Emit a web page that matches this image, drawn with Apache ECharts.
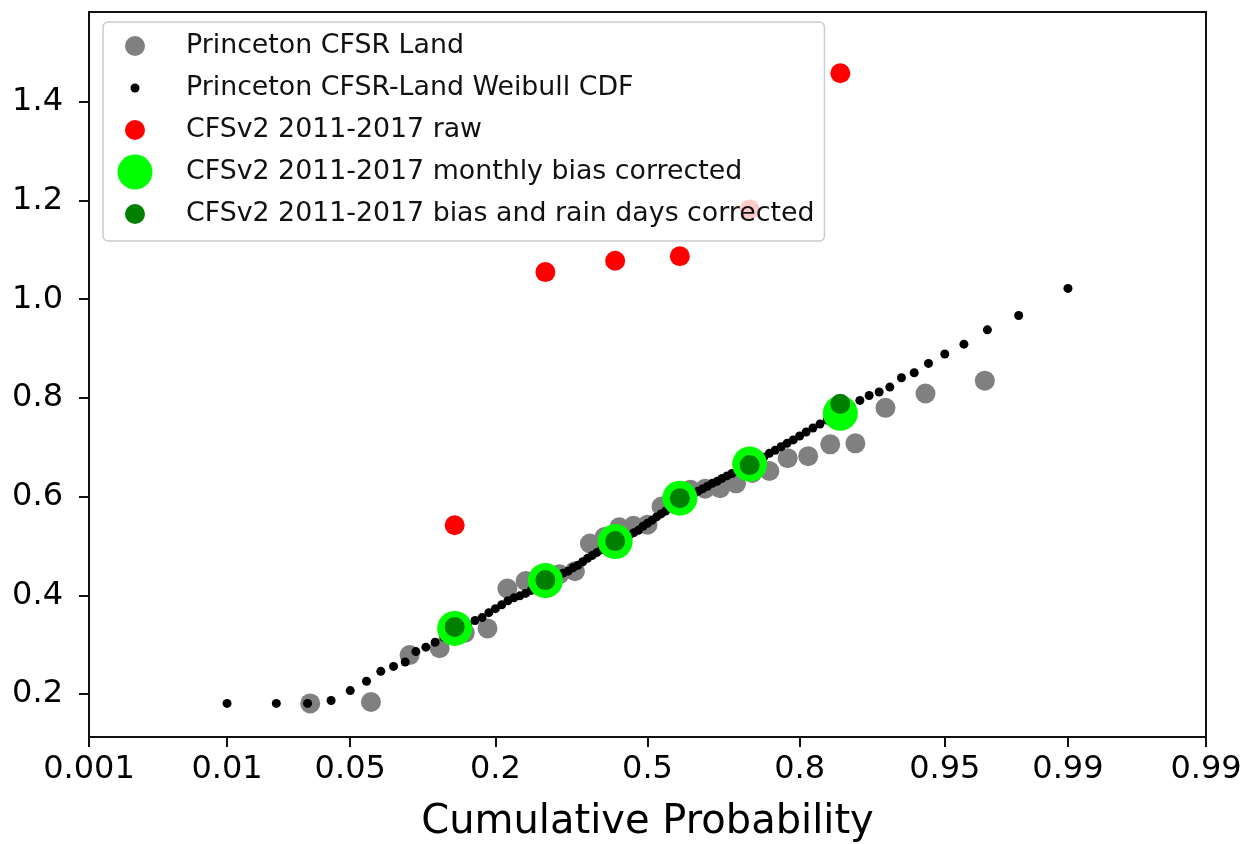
<!DOCTYPE html>
<html>
<head>
<meta charset="utf-8">
<script src="https://cdn.jsdelivr.net/npm/echarts@6/dist/echarts.min.js"></script>
<style>
html,body{margin:0;padding:0;background:#fff;}
#chart{width:1242px;height:844px;}
</style>
</head>
<body>
<div id="chart"></div>
<script>
// ---- data (x = cumulative probability, y = value) ----
const tickProbs = [0.001, 0.01, 0.05, 0.2, 0.5, 0.8, 0.95, 0.99, 0.999];
const tickLabels = ['0.001', '0.01', '0.05', '0.2', '0.5', '0.8', '0.95', '0.99', '0.99'];
const yTicks = [0.2, 0.4, 0.6, 0.8, 1.0, 1.2, 1.4];

const landProb = [0.031, 0.063, 0.094, 0.125, 0.156, 0.188, 0.219, 0.25, 0.281, 0.313, 0.344,
  0.375, 0.406, 0.438, 0.469, 0.5, 0.531, 0.563, 0.594, 0.625, 0.656, 0.688, 0.719, 0.75,
  0.781, 0.813, 0.844, 0.875, 0.906, 0.938, 0.969];
const landVal = [0.181, 0.184, 0.279, 0.293, 0.324, 0.333, 0.414, 0.429, 0.439, 0.443, 0.449,
  0.505, 0.518, 0.538, 0.541, 0.543, 0.580, 0.591, 0.614, 0.616, 0.617, 0.627, 0.648, 0.652,
  0.678, 0.682, 0.706, 0.708, 0.780, 0.809, 0.835];

const cdfProb = [0.01, 0.02, 0.03, 0.04, 0.05, 0.06, 0.07, 0.08, 0.09, 0.10,
  0.11, 0.12, 0.13, 0.14, 0.15, 0.16, 0.17, 0.18, 0.19, 0.20,
  0.21, 0.22, 0.23, 0.24, 0.25, 0.26, 0.27, 0.28, 0.29, 0.30,
  0.31, 0.32, 0.33, 0.34, 0.35, 0.36, 0.37, 0.38, 0.39, 0.40,
  0.41, 0.42, 0.43, 0.44, 0.45, 0.46, 0.47, 0.48, 0.49, 0.50,
  0.51, 0.52, 0.53, 0.54, 0.55, 0.56, 0.57, 0.58, 0.59, 0.60,
  0.61, 0.62, 0.63, 0.64, 0.65, 0.66, 0.67, 0.68, 0.69, 0.70,
  0.71, 0.72, 0.73, 0.74, 0.75, 0.76, 0.77, 0.78, 0.79, 0.80,
  0.81, 0.82, 0.83, 0.84, 0.85, 0.86, 0.87, 0.88, 0.89, 0.90,
  0.91, 0.92, 0.93, 0.94, 0.95, 0.96, 0.97, 0.98, 0.99];
const cdfVal = [0.181, 0.181, 0.181, 0.187, 0.207, 0.226, 0.246, 0.256, 0.265, 0.286,
  0.295, 0.305, 0.315, 0.324, 0.333, 0.341, 0.349, 0.355, 0.365, 0.373,
  0.381, 0.389, 0.395, 0.399, 0.404, 0.410, 0.417, 0.424, 0.430, 0.436,
  0.441, 0.445, 0.449, 0.456, 0.461, 0.468, 0.475, 0.481, 0.487, 0.493,
  0.498, 0.504, 0.510, 0.514, 0.519, 0.522, 0.527, 0.532, 0.540, 0.546,
  0.552, 0.559, 0.565, 0.571, 0.579, 0.586, 0.593, 0.598, 0.602, 0.606,
  0.611, 0.616, 0.621, 0.627, 0.631, 0.637, 0.642, 0.647, 0.652, 0.657,
  0.662, 0.668, 0.674, 0.680, 0.688, 0.694, 0.701, 0.708, 0.715, 0.723,
  0.731, 0.739, 0.747, 0.755, 0.764, 0.773, 0.784, 0.795, 0.805, 0.812,
  0.822, 0.841, 0.851, 0.870, 0.889, 0.909, 0.938, 0.967, 1.022];

const cfsProb = [0.143, 0.286, 0.429, 0.571, 0.714, 0.857];
const rawVal = [0.542, 1.055, 1.078, 1.087, 1.182, 1.458];
const monthlyVal = [0.333, 0.430, 0.509, 0.597, 0.666, 0.769];
const rainDaysVal = [0.336, 0.431, 0.510, 0.597, 0.664, 0.788];

const seriesNames = [
  'Princeton CFSR Land',
  'Princeton CFSR-Land Weibull CDF',
  'CFSv2 2011-2017 raw',
  'CFSv2 2011-2017 monthly bias corrected',
  'CFSv2 2011-2017 bias and rain days corrected'
];

// ---- normal probability (probit) scale transform ----
function probit(p) {
  const a = [-3.969683028665376e+01, 2.209460984245205e+02, -2.759285104469687e+02, 1.383577518672690e+02, -3.066479806614716e+01, 2.506628277459239e+00];
  const b = [-5.447609879822406e+01, 1.615858368580409e+02, -1.556989798598866e+02, 6.680131188771972e+01, -1.328068155288572e+01];
  const c = [-7.784894002430293e-03, -3.223964580411365e-01, -2.400758277161838e+00, -2.549671010229528e+00, 4.374664141464968e+00, 2.938163982698783e+00];
  const d = [7.784695709041462e-03, 3.224671290700398e-01, 2.445134137142996e+00, 3.754408661907416e+00];
  const plow = 0.02425;
  let q, r;
  if (p < plow) {
    q = Math.sqrt(-2 * Math.log(p));
    return (((((c[0]*q+c[1])*q+c[2])*q+c[3])*q+c[4])*q+c[5]) / ((((d[0]*q+d[1])*q+d[2])*q+d[3])*q+1);
  } else if (p <= 1 - plow) {
    q = p - 0.5; r = q*q;
    return (((((a[0]*r+a[1])*r+a[2])*r+a[3])*r+a[4])*r+a[5])*q / (((((b[0]*r+b[1])*r+b[2])*r+b[3])*r+b[4])*r+1);
  } else {
    q = Math.sqrt(-2 * Math.log(1 - p));
    return -(((((c[0]*q+c[1])*q+c[2])*q+c[3])*q+c[4])*q+c[5]) / ((((d[0]*q+d[1])*q+d[2])*q+d[3])*q+1);
  }
}
function pairs(ps, vs) { return ps.map((p, i) => [probit(p), vs[i]]); }

const tickZ = tickProbs.map(probit);

// legend icon: circle of radius r (px) centred at (18,18) in a 64x36 box
function legendIcon(r) {
  return 'path://M0 0M64 36M' + (18 - r) + ' 18A' + r + ' ' + r + ' 0 1 0 ' + (18 + r) + ' 18A' + r + ' ' + r + ' 0 1 0 ' + (18 - r) + ' 18Z';
}

const FONT = 'DejaVu Sans';
const INK = '#000000';
const chart = echarts.init(document.getElementById('chart'), null, {renderer: 'canvas'});
chart.setOption({
  animation: false,
  backgroundColor: '#ffffff',
  textStyle: {fontFamily: FONT},
  grid: {
    left: 89, right: 36, top: 12, bottom: 107,
    show: true, borderColor: '#111111', borderWidth: 2, backgroundColor: 'transparent',
    containLabel: false, outerBoundsMode: 'none'
  },
  legend: {
    orient: 'vertical',
    left: 103, top: 22,
    padding: [6, 10, 9, 14],
    itemWidth: 64, itemHeight: 36, itemGap: 6,
    backgroundColor: 'rgba(255,255,255,0.8)',
    borderColor: '#cccccc', borderWidth: 1.5, borderRadius: 5,
    textStyle: {fontFamily: FONT, fontSize: 26.8, color: '#111111'},
    selectedMode: false,
    z: 20,
    data: [
      {name: seriesNames[0], icon: legendIcon(10)},
      {name: seriesNames[1], icon: legendIcon(4.5)},
      {name: seriesNames[2], icon: legendIcon(10)},
      {name: seriesNames[3], icon: legendIcon(17.5)},
      {name: seriesNames[4], icon: legendIcon(10)}
    ]
  },
  xAxis: {
    type: 'value',
    min: tickZ[0], max: tickZ[tickZ.length - 1],
    name: 'Cumulative Probability',
    nameLocation: 'middle', nameGap: 66,
    nameTextStyle: {fontFamily: FONT, fontSize: 40, color: INK},
    axisLine: {show: true, onZero: false, lineStyle: {color: '#111111', width: 2}},
    axisTick: {show: true, length: 10, inside: false, customValues: tickZ, lineStyle: {color: '#111111', width: 2}},
    axisLabel: {
      show: true, margin: 17, fontSize: 32, color: INK, fontFamily: FONT,
      customValues: tickZ, showMinLabel: true, showMaxLabel: true, hideOverlap: false,
      formatter: function (v) {
        for (let i = 0; i < tickZ.length; i++) if (Math.abs(tickZ[i] - v) < 1e-6) return tickLabels[i];
        return '';
      }
    },
    splitLine: {show: false}
  },
  yAxis: {
    type: 'value',
    min: 0.113, max: 1.582,
    axisLine: {show: true, onZero: false, lineStyle: {color: '#111111', width: 2}},
    axisTick: {show: true, length: 10, customValues: yTicks, lineStyle: {color: '#111111', width: 2}},
    axisLabel: {
      show: true, margin: 26, fontSize: 32, color: INK, fontFamily: FONT,
      customValues: yTicks, showMinLabel: true, showMaxLabel: true,
      formatter: function (v) { return v.toFixed(1); }
    },
    splitLine: {show: false}
  },
  series: [
    {name: seriesNames[0], type: 'scatter', data: pairs(landProb, landVal), symbol: 'circle', symbolSize: 20,
      itemStyle: {color: '#808080', opacity: 1}, silent: true, z: 2},
    {name: seriesNames[1], type: 'scatter', data: pairs(cdfProb, cdfVal), symbol: 'circle', symbolSize: 9,
      itemStyle: {color: '#000000', opacity: 1}, silent: true, z: 3},
    {name: seriesNames[2], type: 'scatter', data: pairs(cfsProb, rawVal), symbol: 'circle', symbolSize: 20,
      itemStyle: {color: '#ff0000', opacity: 1}, silent: true, z: 4},
    {name: seriesNames[3], type: 'scatter', data: pairs(cfsProb, monthlyVal), symbol: 'circle', symbolSize: 35,
      itemStyle: {color: '#00ff00', opacity: 1}, silent: true, z: 5},
    {name: seriesNames[4], type: 'scatter', data: pairs(cfsProb, rainDaysVal), symbol: 'circle', symbolSize: 20,
      itemStyle: {color: '#008000', opacity: 1}, silent: true, z: 6}
  ]
});
</script>
</body>
</html>
